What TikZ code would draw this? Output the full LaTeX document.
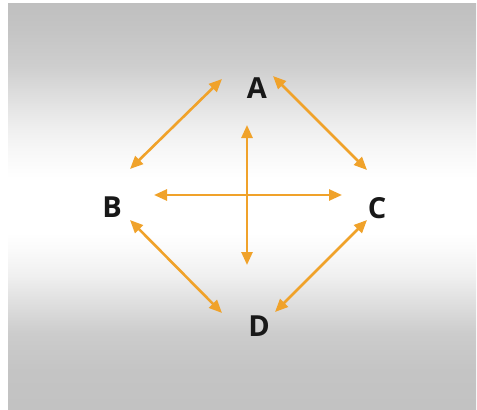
\documentclass[tikz,border=0pt]{standalone}
\usepackage{fontspec}
\setmainfont{Open Sans}
\usetikzlibrary{arrows.meta}
\definecolor{arrowc}{RGB}{240,162,42}
\definecolor{lettc}{RGB}{24,24,24}
\pgfdeclareverticalshading{bgshade}{100bp}{%
  color(0bp)=(black!24);
  color(25bp)=(black!24);
  color(30bp)=(black!23);
  color(34.45bp)=(black!20);
  color(38.5bp)=(black!12);
  color(41.5bp)=(black!6);
  color(44.65bp)=(black!2);
  color(46.75bp)=(white);
  color(53.5bp)=(white);
  color(56.95bp)=(black!3);
  color(59.4bp)=(black!6);
  color(63.1bp)=(black!12);
  color(67.15bp)=(black!19);
  color(71.7bp)=(black!23);
  color(75bp)=(black!25);
  color(100bp)=(black!25)}
\tikzset{
  letter/.style={font=\bfseries\fontsize{29}{29}\selectfont, text=lettc, inner sep=0pt},
  dbl/.style={draw=arrowc, line width=2.6pt, {Triangle[length=13pt,width=11pt]}-{Triangle[length=13pt,width=11pt]}}
}
\begin{document}
\begin{tikzpicture}[x=1pt,y=-1pt]
\useasboundingbox (0,0) rectangle (477,410);
\fill[white] (0,0) rectangle (477,410);
\shade[shading=bgshade] (8,3) rectangle (476,410);
\node[letter] (A) at (257,88) {A};
\node[letter] (B) at (112,207) {B};
\node[letter] (C) at (377,208) {C};
\node[letter] (D) at (259,326) {D};
\coordinate (ab1) at (222,79);
\coordinate (ab2) at (130,169);
\coordinate (ac1) at (273,76);
\coordinate (ac2) at (367,170);
\coordinate (bd1) at (130,220);
\coordinate (bd2) at (222,313);
\coordinate (cd1) at (367,220);
\coordinate (cd2) at (275,312);
\coordinate (h1) at (154,195);
\coordinate (h2) at (342,195);
\coordinate (v1) at (247,125);
\coordinate (v2) at (247,265);
\draw[dbl] (ab1) -- (ab2);
\draw[dbl] (ac1) -- (ac2);
\draw[dbl] (bd1) -- (bd2);
\draw[dbl] (cd1) -- (cd2);
\draw[dbl] (h1) -- (h2);
\draw[dbl] (v1) -- (v2);
\end{tikzpicture}
\end{document}
